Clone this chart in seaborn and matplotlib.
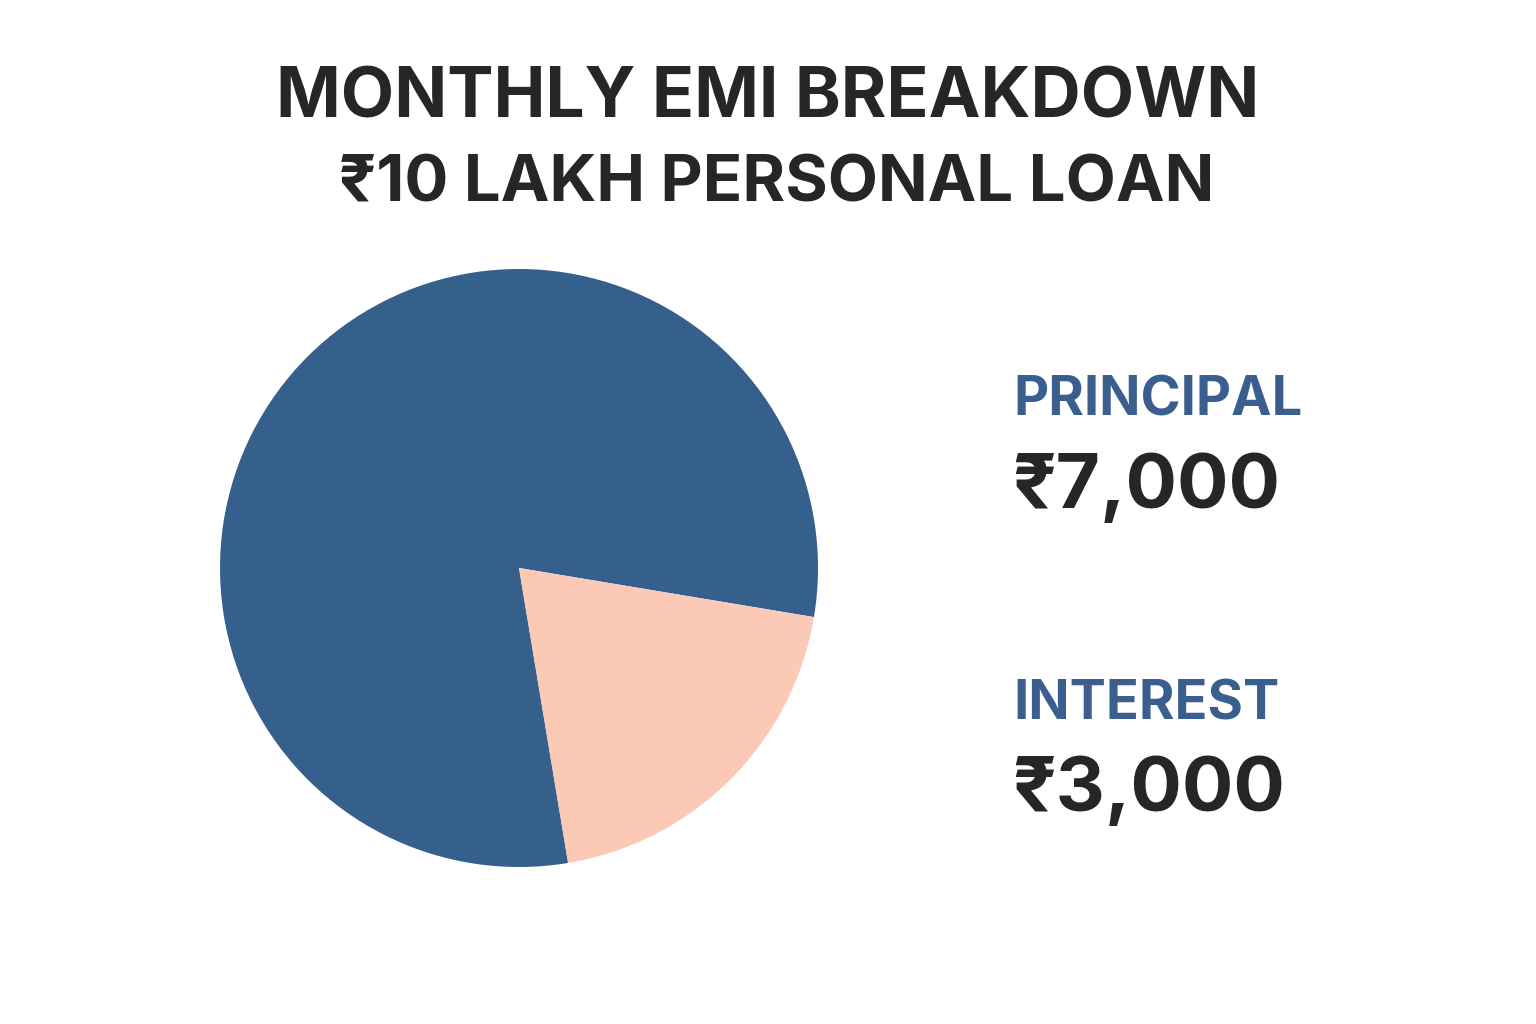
import matplotlib
matplotlib.use("Agg")
import matplotlib.pyplot as plt
import seaborn as sns

# ---- data ----
categories = ["PRINCIPAL", "INTEREST"]
amount_labels = ["₹7,000", "₹3,000"]
slice_shares = [80.25, 19.75]          # share of the pie as drawn in the picture
slice_colors = ["#36608C", "#FDC9B7"]
title_line1 = "MONTHLY EMI BREAKDOWN"
title_line2 = "₹10 LAKH PERSONAL LOAN"

sns.set_theme(style="white")
plt.rcParams["font.family"] = ["Inter", "Lato", "DejaVu Sans"]

W, H = 1536, 1024
fig = plt.figure(figsize=(W / 100, H / 100), dpi=100, facecolor="white")

def fx(x):
    return x / W

def fy(y):
    return 1 - y / H

# pie axes: centre (519, 568), radius 299 px
cx, cy, r = 519, 568, 299
ax = fig.add_axes([fx(cx - r), fy(cy + r), 2 * r / W, 2 * r / H])
ax.pie(slice_shares, colors=slice_colors, startangle=-9.45, counterclock=True,
       wedgeprops=dict(linewidth=0), frame=False)
ax.set_xlim(-1, 1)
ax.set_ylim(-1, 1)
ax.set_aspect("equal")
ax.axis("off")

dark = "#262626"
blue = "#3A5F8E"

fig.text(0.5, fy(117), title_line1, ha="center", va="baseline",
         fontsize=50, fontweight="bold", color=dark)
fig.text(fx(777), fy(202), title_line2, ha="center", va="baseline",
         fontsize=47, fontweight="bold", color=dark)

label_y = [416, 720]
value_y = [508, 811]
for name, amt, ly, vy in zip(categories, amount_labels, label_y, value_y):
    fig.text(fx(1013), fy(ly), name, ha="left", va="baseline",
             fontsize=39, fontweight="bold", color=blue)
    fig.text(fx(1012), fy(vy), amt, ha="left", va="baseline",
             fontsize=55, fontweight="bold", color=dark)

fig.savefig("out.png", dpi=100, facecolor="white")
